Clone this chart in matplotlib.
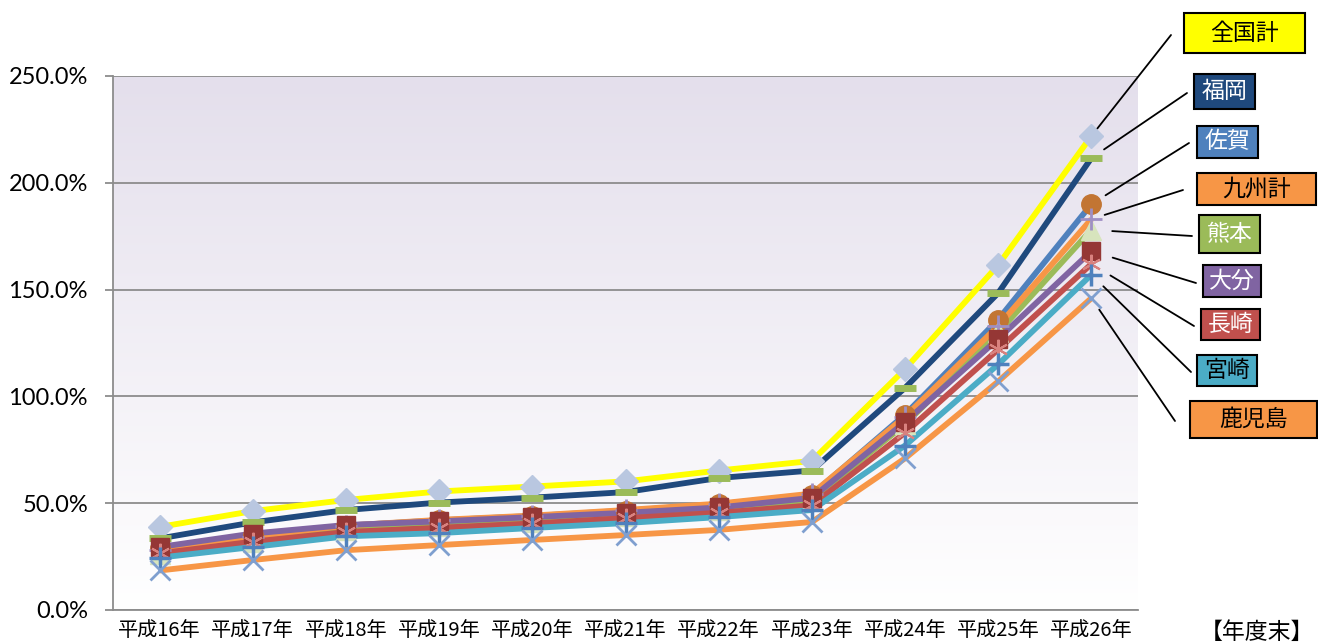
import matplotlib
matplotlib.use("Agg")
import matplotlib.pyplot as plt
import numpy as np
from matplotlib.patches import Rectangle
from matplotlib.colors import LinearSegmentedColormap

plt.rcParams['font.family'] = ['Noto Sans CJK JP', 'DejaVu Sans']

# data (percent)
years = ['平成16年', '平成17年', '平成18年', '平成19年', '平成20年', '平成21年',
         '平成22年', '平成23年', '平成24年', '平成25年', '平成26年']
zenkoku = [38.9, 46.3, 51.5, 55.5, 57.8, 60.2, 65.3, 69.8, 112.8, 161.5, 221.9]
fukuoka = [33.5, 41.0, 46.8, 50.3, 52.6, 55.2, 61.8, 65.3, 104.0, 148.4, 211.6]
saga = [29.0, 35.0, 39.5, 42.0, 44.0, 46.5, 49.5, 54.0, 91.5, 136.0, 190.0]
kyushu = [28.0, 34.3, 39.5, 42.2, 44.2, 46.8, 49.8, 54.5, 90.5, 133.0, 183.0]
kumamoto = [26.0, 31.8, 37.3, 39.3, 41.2, 44.0, 46.8, 51.5, 87.0, 130.0, 178.0]
oita = [29.5, 35.8, 39.8, 41.5, 43.5, 45.5, 48.0, 52.5, 88.0, 127.0, 168.0]
nagasaki = [26.5, 32.0, 36.5, 38.5, 40.5, 43.0, 45.5, 49.0, 83.0, 122.0, 162.0]
miyazaki = [24.5, 29.5, 34.5, 36.0, 38.4, 40.7, 43.5, 46.8, 77.0, 115.0, 157.0]
kagoshima = [18.5, 23.4, 28.0, 30.4, 32.8, 35.1, 37.5, 41.2, 71.0, 107.0, 146.0]

# name, values, line colour, marker, marker colour, marker size, edge width
series = [
    ('全国計', zenkoku, '#FFFF00', 'D', '#B9C7E0', 12, 1),
    ('福岡', fukuoka, '#1F497D', '_', '#9BBB59', 16, 5),
    ('佐賀', saga, '#4F81BD', 'o', '#C27533', 14, 1),
    ('熊本', kumamoto, '#9BBB59', '^', '#D7E4BD', 14, 1),
    ('九州計', kyushu, '#F79646', '+', '#9F8FC4', 16, 2),
    ('大分', oita, '#8064A2', 's', '#953735', 13, 1),
    ('長崎', nagasaki, '#C0504D', (6, 2, 0), '#D9827F', 14, 1.5),
    ('宮崎', miyazaki, '#4BACC6', '+', '#4F81BD', 16, 2.5),
    ('鹿児島', kagoshima, '#F79646', 'x', '#7F9FCF', 14, 2),
]

# label boxes: name, box (image px: x0, y0, x1, y1), face, text colour, leader end, shrink
labels = [
    ('全国計', (1184, 13, 1305, 53), '#FFFF00', 'black', (1171, 35), 7),
    ('福岡', (1194, 74, 1255, 109), '#1F497D', 'white', (1187, 93), 11),
    ('佐賀', (1197, 126, 1258, 158), '#4F81BD', 'white', (1189, 143), 12),
    ('九州計', (1197, 173, 1316, 205), '#F79646', 'black', (1183, 190), 10),
    ('熊本', (1199, 215, 1260, 253), '#9BBB59', 'white', (1192, 236), 15),
    ('大分', (1203, 265, 1261, 297), '#8064A2', 'white', (1196, 283), 16),
    ('長崎', (1201, 309, 1260, 340), '#C0504D', 'white', (1194, 326), 16),
    ('宮崎', (1197, 355, 1257, 386), '#4BACC6', 'black', (1191, 372), 12),
    ('鹿児島', (1190, 401, 1317, 438), '#F79646', 'black', (1175, 421), 10),
]

W, H = 1318, 643
fig = plt.figure(figsize=(W / 100, H / 100), dpi=100)
ax = fig.add_axes([113 / W, 33 / H, 1025 / W, 534 / H])

x = np.arange(len(years))

# plot area gradient
bg = LinearSegmentedColormap.from_list('bg', ['#FFFFFF', '#E4DFEC'])
ax.imshow(np.linspace(0, 1, 256).reshape(-1, 1), extent=[-0.5, len(years) - 0.5, 0, 250],
          aspect='auto', cmap=bg, origin='lower', zorder=-2)

for name, vals, lc, m, mc, ms, mew in series:
    ax.plot(x, vals, color=lc, lw=4.2, solid_capstyle='butt', zorder=2)
for name, vals, lc, m, mc, ms, mew in series:
    ax.plot(x, vals, ls='none', marker=m, ms=ms, mfc=mc, mec=mc, mew=mew, zorder=3)

ax.set_xlim(-0.5, len(years) - 0.5)
ax.set_ylim(0, 250)
ax.set_yticks([0, 50, 100, 150, 200, 250])
ax.set_yticklabels([f'{v:.1f}%' for v in [0, 50, 100, 150, 200, 250]],
                   family=['Lato', 'DejaVu Sans'], fontsize=17)
ax.set_xticks(x)
ax.set_xticklabels(years, fontsize=14.5)
ax.grid(axis='y', color='#8C8C8C', lw=1.3, zorder=1)
ax.set_axisbelow(True)
ax.tick_params(axis='y', length=6, width=1.3, color='#8C8C8C', pad=12)
ax.tick_params(axis='x', length=0, pad=7)
for s in ['top', 'right']:
    ax.spines[s].set_visible(False)
for s in ['left', 'bottom']:
    ax.spines[s].set_color('#8C8C8C')
    ax.spines[s].set_linewidth(1.3)

fig.text(1314 / W, 1 - 632 / H, '【年度末】', fontsize=16.5, ha='right', va='center')

last = {name: vals[-1] for name, vals, *_ in series}
for name, (x0, y0, x1, y1), fc, tc, (lx, ly), shr in labels:
    fig.add_artist(Rectangle((x0 / W, 1 - y1 / H), (x1 - x0) / W, (y1 - y0) / H,
                             transform=fig.transFigure, facecolor=fc,
                             edgecolor='black', lw=1.5))
    fig.text((x0 + x1) / 2 / W, 1 - (y0 + y1) / 2 / H, name, color=tc,
             fontsize=16.5, ha='center', va='center')
    ax.annotate('', xy=(len(years) - 1, last[name]), xycoords='data',
                xytext=(lx, H - ly), textcoords='figure pixels',
                arrowprops=dict(arrowstyle='-', color='black', lw=1.3,
                                shrinkA=0, shrinkB=shr),
                annotation_clip=False)

fig.savefig('out.png', dpi=100)
